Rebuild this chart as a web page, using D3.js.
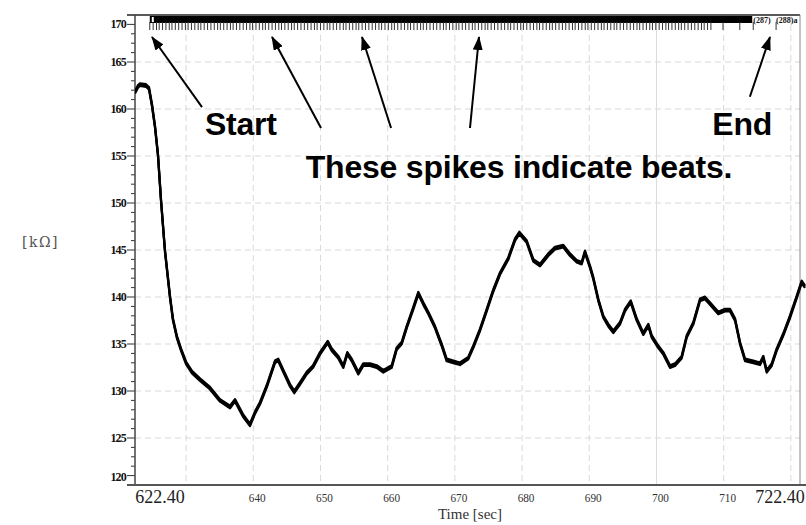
<!DOCTYPE html>
<html><head><meta charset="utf-8">
<script src="https://cdn.jsdelivr.net/npm/d3@7"></script>
<style>html,body{margin:0;padding:0;background:#fff;}svg{display:block;}</style>
</head><body>
<script>
// ---- data ----
const timeSec = [622.4,622.85,623.14,624.04,624.48,624.93,625.38,625.82,626.27,626.86,627.61,628.05,628.65,629.25,629.99,630.88,632.07,633.56,635.05,636.54,637.28,638.47,639.51,640.26,641.0,642.0,643.23,643.72,644.42,645.47,646.1,646.95,647.95,648.89,649.93,651.08,651.67,652.65,653.4,653.99,654.65,655.63,656.37,657.37,658.37,659.35,660.6,661.34,662.09,662.83,663.81,664.56,665.3,666.05,667.04,668.04,668.78,669.77,670.76,672.0,672.74,673.74,674.74,675.72,676.72,677.95,678.95,679.59,680.69,681.67,682.67,683.9,684.9,686.14,687.13,688.13,688.87,689.36,690.11,690.6,691.34,692.09,692.83,693.58,694.57,695.32,696.17,697.06,698.04,698.79,699.29,700.27,701.02,702.01,702.76,703.75,704.5,705.48,706.48,707.22,708.22,709.2,710.2,710.94,711.69,712.43,713.18,714.41,715.41,715.9,716.4,717.15,717.89,718.87,719.87,720.87,721.61,722.1];
const resistanceK = [161.8,162.4,162.6,162.5,162.2,160.4,158.1,155.1,150.3,144.9,140.0,137.6,135.7,134.4,133.0,132.0,131.2,130.3,129.0,128.3,129.0,127.4,126.4,127.7,128.7,130.5,133.1,133.3,132.2,130.6,129.9,130.8,131.9,132.6,134.0,135.2,134.4,133.6,132.6,134.0,133.3,131.9,132.8,132.8,132.6,132.1,132.6,134.5,135.1,136.8,138.8,140.4,139.3,138.3,136.8,134.9,133.3,133.1,132.9,133.5,134.7,136.5,138.6,140.7,142.5,144.1,146.1,146.8,145.9,143.9,143.4,144.5,145.2,145.4,144.5,143.8,143.6,144.8,143.2,142.0,139.7,137.9,137.0,136.3,137.2,138.6,139.5,137.6,136.1,137.0,135.8,134.7,134.0,132.6,132.8,133.6,135.8,137.2,139.7,139.9,139.1,138.3,138.6,138.6,137.6,135.1,133.3,133.1,132.9,133.6,132.1,132.8,134.4,136.0,137.9,140.0,141.6,141.1];

const beatTimes = [
624.6,625.1,625.6,626.0,626.5,627.0,627.5,627.9,628.4,628.9,
629.4,629.9,630.3,630.8,631.3,631.8,632.2,632.7,633.2,633.7,
634.2,634.7,635.1,635.6,636.1,636.6,637.0,637.5,638.0,638.5,
639.0,639.5,639.9,640.4,640.9,641.4,641.8,642.3,642.8,643.3,
643.8,644.2,644.7,645.2,645.7,646.1,646.6,647.1,647.6,648.1,
648.6,649.1,649.5,650.0,650.5,651.0,651.4,651.9,652.4,652.9,
653.4,653.8,654.3,654.8,655.3,655.7,656.2,656.7,657.2,657.7,
658.2,658.7,659.1,659.6,660.1,660.6,661.0,661.5,662.0,662.5,
663.0,663.4,663.9,664.4,664.9,665.3,665.8,666.3,666.8,667.3,
667.8,668.3,668.7,669.2,669.7,670.2,670.6,671.1,671.6,672.1,
672.6,673.0,673.5,674.0,674.5,674.9,675.4,675.9,676.4,676.9,
677.4,677.9,678.3,678.8,679.3,679.8,680.2,680.7,681.2,681.7,
682.2,682.6,683.1,683.6,684.1,684.5,685.0,685.5,686.0,686.5,
687.0,687.5,687.9,688.4,688.9,689.4,689.8,690.3,690.8,691.3,
691.8,692.2,692.7,693.2,693.7,694.1,694.6,695.1,695.6,696.1,
696.6,697.1,697.5,698.0,698.5,699.0,699.4,699.9,700.4,700.9,
701.4,701.8,702.3,702.8,703.3,703.7,704.2,704.7,705.2,705.7,
706.2,706.7,707.1,707.6,708.1,
709.9,712.4,714.4,717.8];
const lastBeatLabels = ["(287)", "(288)a"];

const xGridTicks = [630,640,650,660,670,680,690,700,710,720];
const xTickLabels = ["640","650","660","670","680","690","700","710"];
const xEndLabels = ["622.40","722.40"];
const yMajorTicks = [125,130,135,140,145,150,155,160,165];
const yEndLabels = ["120","170"];
const xTitle = "Time [sec]";
const yTitle = "[kΩ]";

// annotations (data units)
const arrowTips = [624.93, 642.79, 656.18, 673.59, 716.89];
const arrowTails = [[632.37,160.2],[650.08,157.98],[660.5,157.98],[672.25,157.98],[713.9,161.3]];
const notes = [
  {text:"Start", t:632.8, v:157.3},
  {text:"End", t:708.3, v:157.3},
  {text:"These spikes indicate beats.", t:647.8, v:152.8}
];

// ---- drawing ----
const W = 806, H = 525;
const x = d3.scaleLinear().domain([622.4, 722.4]).range([135, 807]);
const y = d3.scaleLinear().domain([120, 170]).range([485, 15]);
const svg = d3.select("body").append("svg").attr("width", W).attr("height", H);

// grid
const grid = svg.append("g");
grid.selectAll("line.h").data(yMajorTicks).join("line")
  .attr("x1", 135).attr("x2", 800).attr("y1", d => y(d)).attr("y2", d => y(d))
  .attr("stroke", "#d8d8d8").attr("stroke-width", 1).attr("stroke-dasharray", "6,4");
grid.selectAll("line.v").data(xGridTicks).join("line")
  .attr("x1", d => x(d)).attr("x2", d => x(d)).attr("y1", 15).attr("y2", 485)
  .attr("stroke", d => d === 700 ? "#dcdcdc" : "#d8d8d8").attr("stroke-width", 1)
  .attr("stroke-dasharray", d => d === 700 ? null : "6,4");

// y ticks
const yAll = d3.range(121, 170);
svg.append("g").selectAll("line").data(yAll).join("line")
  .attr("x1", d => (d % 5 === 0 || d === 121 || d === 169) ? 127 : 131).attr("x2", 135)
  .attr("y1", d => y(d)).attr("y2", d => y(d))
  .attr("stroke", "#333").attr("stroke-width", 1);
const yl = svg.append("g").attr("font-family", "Liberation Serif, serif").attr("font-weight", "bold")
  .attr("font-size", 12).attr("text-anchor", "end").attr("fill", "#111");
yl.selectAll("text.m").data(yMajorTicks).join("text")
  .attr("x", 126).attr("y", d => y(d) + 4).attr("letter-spacing", -0.8).text(d => d);
yl.append("text").attr("x", 126).attr("y", y(120.9) + 4).attr("letter-spacing", -0.8).text(yEndLabels[0]);
yl.append("text").attr("x", 126).attr("y", y(169) + 4).attr("letter-spacing", -0.8).text(yEndLabels[1]);

// x labels
const xl = svg.append("g").attr("font-family", "Liberation Serif, serif").attr("fill", "#333");
xl.selectAll("text").data(xTickLabels).join("text")
  .attr("x", d => x(+d) + 4).attr("y", 502).attr("text-anchor", "middle").attr("font-size", 12.5)
  .attr("transform", d => `translate(${x(+d)+4},0) scale(0.9,1) translate(${-(x(+d)+4)},0)`)
  .text(d => d);
xl.append("text").attr("x", x(622.4) + 25).attr("y", 503).attr("text-anchor", "middle")
  .attr("font-size", 18).attr("fill", "#222").text(xEndLabels[0]);
xl.append("text").attr("x", x(722.4) - 27).attr("y", 503).attr("text-anchor", "middle")
  .attr("font-size", 18).attr("fill", "#222").text(xEndLabels[1]);
svg.append("text").attr("x", 470).attr("y", 519).attr("text-anchor", "middle")
  .attr("font-family", "Liberation Serif, serif").attr("font-size", 15).attr("fill", "#333").text(xTitle);
svg.append("text").attr("x", 22).attr("y", 247)
  .attr("font-family", "DejaVu Serif, serif").attr("font-size", 14).attr("letter-spacing", 1.5)
  .attr("fill", "#555").text(yTitle);

// frame
svg.append("line").attr("x1", 127).attr("x2", 800).attr("y1", 15).attr("y2", 15).attr("stroke", "#222").attr("stroke-width", 1.5);
svg.append("line").attr("x1", 135).attr("x2", 135).attr("y1", 15).attr("y2", 485).attr("stroke", "#444").attr("stroke-width", 1.5);
svg.append("line").attr("x1", 800).attr("x2", 800).attr("y1", 15).attr("y2", 485).attr("stroke", "#888").attr("stroke-width", 1);
svg.append("line").attr("x1", 127).attr("x2", 806).attr("y1", 485).attr("y2", 485).attr("stroke", "#555").attr("stroke-width", 2);

// beat band: overlapping beat labels merge into a black bar; last two stay legible
const nB = beatTimes.length;
svg.append("rect").attr("x", x(beatTimes[0])).attr("y", 16)
  .attr("width", x(beatTimes[nB - 2]) - x(beatTimes[0]) - 1).attr("height", 7).attr("fill", "#000");
svg.append("rect").attr("x", x(beatTimes[0]) + 2).attr("y", 17)
  .attr("width", 2).attr("height", 5).attr("fill", "#fff");
svg.append("g").attr("font-family", "Liberation Serif, serif").attr("font-size", 8).attr("font-weight", "bold")
  .selectAll("text").data(lastBeatLabels).join("text")
  .attr("x", (d, i) => x(beatTimes[nB - 2 + i])).attr("y", 22.5).attr("fill", "#111")
  .text(d => d);
svg.append("g").selectAll("line").data(beatTimes).join("line")
  .attr("x1", d => x(d)).attr("x2", d => x(d)).attr("y1", 22).attr("y2", 30)
  .attr("stroke", "#333").attr("stroke-width", 1);

// signal
const pts = timeSec.map((t, i) => [t, resistanceK[i]]);
const line = d3.line().x(d => x(d[0])).y(d => y(d[1]));
svg.append("clipPath").attr("id", "clip").append("rect").attr("x", 135).attr("y", 15).attr("width", 671).attr("height", 470);
const sig = svg.append("g").attr("clip-path", "url(#clip)");
[-1.3, 0, 1.3].forEach(dy => {
  sig.append("path").datum(pts).attr("d", line).attr("transform", `translate(0,${dy})`)
    .attr("fill", "none").attr("stroke", "#000").attr("stroke-width", 2.2).attr("stroke-linejoin", "round");
});

// arrows
svg.append("defs").append("marker").attr("id", "ah").attr("viewBox", "0 0 14 10")
  .attr("refX", 13).attr("refY", 5).attr("markerWidth", 14).attr("markerHeight", 10)
  .attr("markerUnits", "userSpaceOnUse").attr("orient", "auto")
  .append("path").attr("d", "M0,0 L14,5 L0,10 Z").attr("fill", "#000");
svg.append("g").selectAll("line").data(arrowTips).join("line")
  .attr("x1", (d, i) => x(arrowTails[i][0])).attr("y1", (d, i) => y(arrowTails[i][1]))
  .attr("x2", d => x(d)).attr("y2", y(167.66))
  .attr("stroke", "#000").attr("stroke-width", 2).attr("marker-end", "url(#ah)");

svg.append("g").attr("font-family", "Liberation Sans, Arial, sans-serif").attr("font-weight", "bold")
  .attr("font-size", 32).attr("fill", "#000")
  .selectAll("text").data(notes).join("text")
  .attr("x", d => x(d.t)).attr("y", d => y(d.v) + 1).attr("letter-spacing", -0.2).text(d => d.text);
</script>
</body></html>
